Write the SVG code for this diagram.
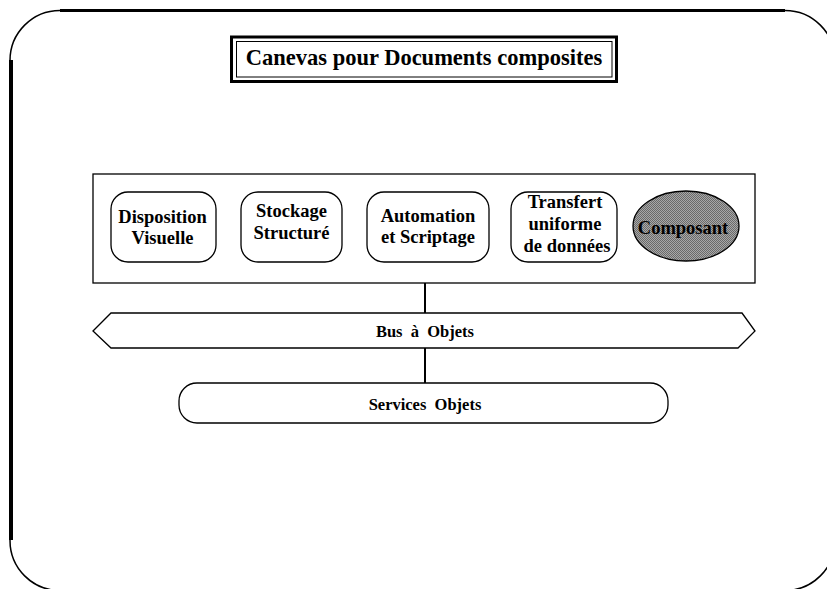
<svg xmlns="http://www.w3.org/2000/svg" width="827" height="589" viewBox="0 0 827 589">
<style>
text{font-family:"Liberation Serif","Times New Roman",serif;font-weight:bold;fill:#000;text-anchor:middle}
.n{font-size:18.5px}
.b{font-size:16.5px;white-space:pre}
.shape{fill:#fff;stroke:#000;stroke-width:1.3}
.conn{stroke:#000;stroke-width:2;fill:none}
</style>
<defs>
<pattern id="dither" width="2" height="2" patternUnits="userSpaceOnUse">
<rect width="2" height="2" fill="#a8a8a8"/>
<rect width="1" height="1" fill="#6a6a6a"/>
<rect x="1" y="1" width="1" height="1" fill="#6a6a6a"/>
</pattern>
</defs>
<rect width="827" height="589" fill="#fff"/>
<g id="frame">
<rect x="10" y="10.5" width="825" height="580" rx="50" ry="50" fill="none" stroke="#000" stroke-width="1.5"/>
<line x1="60" y1="10.5" x2="785" y2="10.5" stroke="#000" stroke-width="3"/>
<line x1="11" y1="60" x2="11" y2="540" stroke="#000" stroke-width="4"/>
</g>
<g id="title">
<rect x="231.5" y="37" width="385" height="44.5" fill="#fff" stroke="#000" stroke-width="3"/>
<rect x="236.5" y="41.5" width="375.5" height="35.5" fill="none" stroke="#000" stroke-width="1"/>
<text x="424" y="65" style="font-size:22.5px">Canevas pour Documents composites</text>
</g>
<g id="connectors">
<line class="conn" x1="425" y1="283" x2="425" y2="313"/>
<line class="conn" x1="425" y1="348" x2="425" y2="383"/>
</g>
<g id="canevas">
<rect class="shape" x="93" y="174" width="662" height="109"/>
</g>
<g id="disposition">
<rect class="shape" x="111" y="192" width="105" height="70" rx="17"/>
<text class="n" x="162.5" y="223">Disposition</text>
<text class="n" x="162.5" y="244">Visuelle</text>
</g>
<g id="stockage">
<rect class="shape" x="241" y="192" width="101" height="70" rx="17"/>
<text class="n" x="291.5" y="217">Stockage</text>
<text class="n" x="291.5" y="238.5">Structuré</text>
</g>
<g id="automation">
<rect class="shape" x="367" y="192" width="122" height="70" rx="17"/>
<text class="n" x="428" y="222">Automation</text>
<text class="n" x="428" y="243">et Scriptage</text>
</g>
<g id="transfert">
<rect class="shape" x="511" y="192" width="106" height="70" rx="17"/>
<text class="n" x="565" y="208">Transfert</text>
<text class="n" x="565" y="230">uniforme</text>
<text class="n" x="567" y="252">de données</text>
</g>
<g id="composant">
<ellipse cx="686" cy="226" rx="53" ry="35" fill="url(#dither)" stroke="#000" stroke-width="1.3"/>
<text class="n" x="683" y="234">Composant</text>
</g>
<g id="bus">
<polygon class="shape" points="93,331 111,313 742,313 755,331 738,348 111,348"/>
<text class="b" x="425" y="337">Bus  à  Objets</text>
</g>
<g id="services">
<rect class="shape" x="179" y="383" width="489" height="40" rx="18"/>
<text class="b" x="425" y="410">Services  Objets</text>
</g>
</svg>
